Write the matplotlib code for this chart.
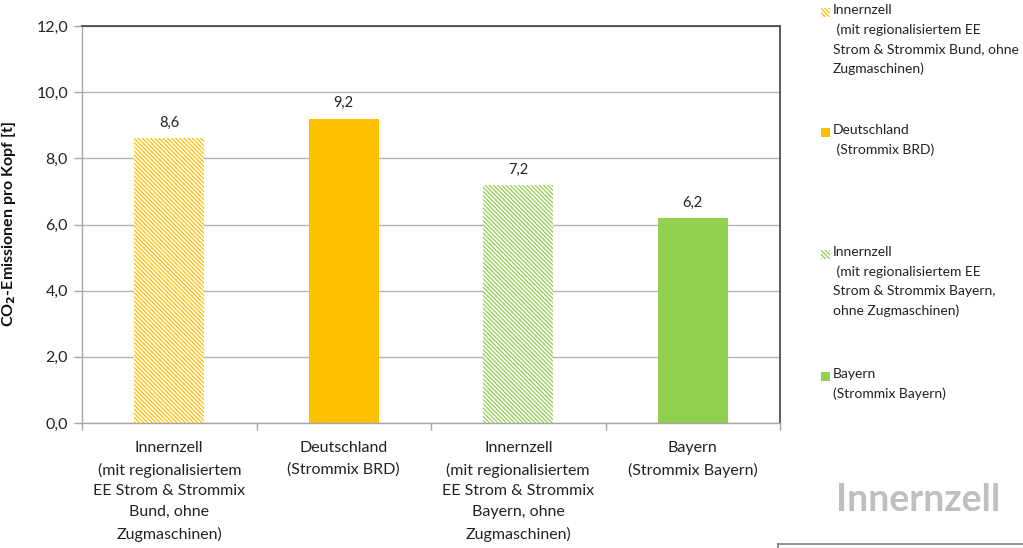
import matplotlib
matplotlib.use("Agg")
import matplotlib.pyplot as plt
from matplotlib.patches import Rectangle
from matplotlib.lines import Line2D
import numpy as np

categories = [
    "Innernzell\n(mit regionalisiertem\nEE Strom & Strommix\nBund, ohne\nZugmaschinen)",
    "Deutschland\n(Strommix BRD)",
    "Innernzell\n(mit regionalisiertem\nEE Strom & Strommix\nBayern, ohne\nZugmaschinen)",
    "Bayern\n(Strommix Bayern)",
]
values = [8.6, 9.2, 7.2, 6.2]
value_labels = ["8,6", "9,2", "7,2", "6,2"]
legend_labels = [
    "Innernzell\n (mit regionalisiertem EE\nStrom & Strommix Bund, ohne\nZugmaschinen)",
    "Deutschland\n (Strommix BRD)",
    "Innernzell\n (mit regionalisiertem EE\nStrom & Strommix Bayern,\nohne Zugmaschinen)",
    "Bayern\n(Strommix Bayern)",
]
colors = ["#FFC000", "#FFC000", "#92D050", "#92D050"]
hatched = [True, False, True, False]
yticks = [0, 2, 4, 6, 8, 10, 12]
ytick_labels = ["0,0", "2,0", "4,0", "6,0", "8,0", "10,0", "12,0"]

plt.rcParams["font.family"] = ["Lato", "DejaVu Sans"]
plt.rcParams["hatch.linewidth"] = 0.9

W, H = 1023, 548
fig = plt.figure(figsize=(W / 100, H / 100), dpi=100)
ax = fig.add_axes([82 / W, 1 - 423 / H, 698 / W, 397 / H])

fine_hatch = "\\" * 8

x = np.arange(len(values))
for xi, v, c, h in zip(x, values, colors, hatched):
    if h:
        ax.bar(xi, v, width=0.4, facecolor="white", edgecolor=c,
               linewidth=0, hatch=fine_hatch, zorder=2)
    else:
        ax.bar(xi, v, width=0.4, color=c, zorder=2)

for xi, v, lab in zip(x, values, value_labels):
    ax.annotate(lab, (xi, v), xytext=(0, 6), textcoords="offset points",
                ha="center", va="bottom", fontsize=10.5, color="#222222")

ax.set_xlim(-0.5, len(values) - 0.5)
ax.set_ylim(0, 12)
ax.set_yticks(yticks)
ax.set_yticklabels(ytick_labels, fontsize=11.5, color="#222222")
ax.yaxis.grid(True, color="#b3b3b3", linewidth=1.0, zorder=0)
ax.set_axisbelow(True)

ax.set_xticks(x)
ax.set_xticklabels(categories, fontsize=11.5, color="#222222", linespacing=1.62)
ax.tick_params(axis="x", which="major", length=0, pad=13)
ax.set_xticks(np.arange(-0.5, len(values)), minor=True)
ax.tick_params(axis="x", which="minor", length=5, color="#a6a6a6", width=1)
ax.tick_params(axis="y", length=6, color="#a6a6a6", width=1, pad=4)

for side in ("left", "bottom"):
    ax.spines[side].set_color("#a6a6a6")
    ax.spines[side].set_linewidth(1.0)
for side in ("top", "right"):
    ax.spines[side].set_color("#404040")
    ax.spines[side].set_linewidth(1.2)

ax.set_ylabel(r"CO$_\mathbf{2}$-Emissionen pro Kopf [t]", fontsize=11.5,
              fontweight="bold", color="#111111")
ax.yaxis.set_label_coords(-0.092, 0.5)

# Legend drawn in figure pixels on the right
legend_y = [12, 132, 254, 376]
for lab, c, h, yc in zip(legend_labels, colors, hatched, legend_y):
    fy = 1 - yc / H
    sq = Rectangle((821 / W, fy - 4.5 / H), 9 / W, 9 / H, transform=fig.transFigure,
                   facecolor="white" if h else c, edgecolor=c, linewidth=0,
                   hatch=fine_hatch if h else None)
    fig.add_artist(sq)
    fig.text(833 / W, fy + 8 / H, lab, ha="left", va="top", fontsize=10,
             color="#222222", linespacing=1.72)

fig.text(918 / W, 1 - 500 / H, "Innernzell", ha="center", va="center",
         fontsize=27, fontweight="bold", color="#bfbfbf")
fig.add_artist(Line2D([778 / W, 1.0], [1 - 544 / H, 1 - 544 / H],
                      transform=fig.transFigure, color="#808080", linewidth=1.2))
fig.add_artist(Line2D([778 / W, 778 / W], [1 - 544 / H, 0],
                      transform=fig.transFigure, color="#808080", linewidth=1.2))

fig.savefig("out.png", dpi=100, facecolor="white")
